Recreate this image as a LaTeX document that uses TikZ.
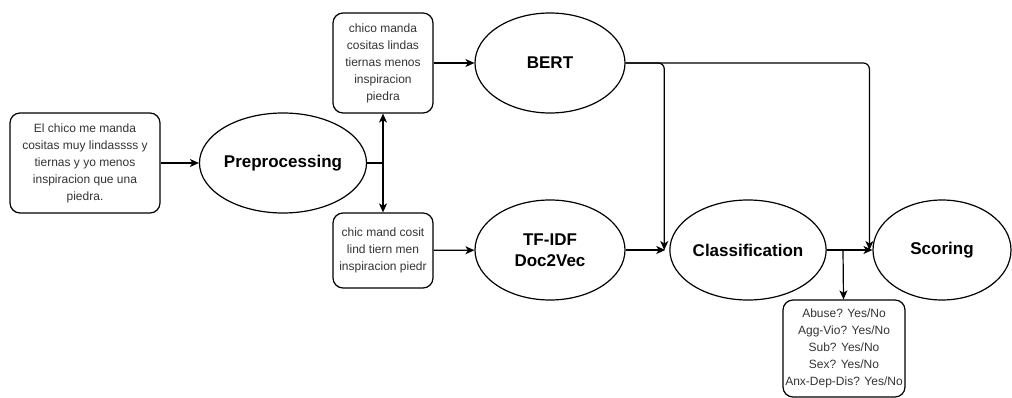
\documentclass[tikz,border=0pt]{standalone}
\usepackage{fontspec}
\setmainfont{Liberation Sans}
\usetikzlibrary{arrows.meta,shapes.geometric}
\begin{document}
\begin{tikzpicture}[x=1pt,y=-1pt,
        caja/.style={draw,rounded corners=10pt,line width=1.2pt,align=center,inner sep=0pt,
            text=texto,font=\fontsize{12}{17}\selectfont},
        elipse/.style={draw,ellipse,line width=1.2pt,align=center,inner sep=0pt,
            minimum width=150pt,minimum height=100pt,font=\bfseries\fontsize{17}{21}\selectfont},
        linea/.style={line width=1.2pt},
        flecha/.style={linea,-{Stealth[length=9pt,width=8pt,inset=2.5pt]}}]
        %colores
        \colorlet{texto}{black!80}

        % Marco
        \useasboundingbox (0,0) rectangle (1012,398);

        % Textos
        \node[caja,minimum width=150pt,minimum height=100pt] (input) at (85,163)
            {El chico me manda\\cositas muy lindassss y\\tiernas y yo menos\\inspiracion que una\\piedra.};
        \node[caja,minimum width=100pt,minimum height=100pt] (limpio) at (383,63)
            {chico manda\\cositas lindas\\tiernas menos\\inspiracion\\piedra};
        \node[caja,minimum width=100pt,minimum height=75pt] (stem) at (383,250.5)
            {chic mand cosit\\lind tiern men\\inspiracion piedr};
        \node[caja,minimum width=122pt,minimum height=97pt] (salida) at (844,348.5)
            {Abuse? Yes/No\\Agg-Vio? Yes/No\\Sub? Yes/No\\Sex? Yes/No\\Anx-Dep-Dis? Yes/No};

        % Etapas
        \node[elipse] (prep) at (283,163) {Preprocessing};
        \node[elipse] (bert) at (550,63) {BERT};
        \node[elipse] (tfidf) at (550,250) {TF-IDF\\Doc2Vec};
        \node[elipse] (clasif) at (748,250) {Classification};
        \node[elipse,minimum width=138pt] (score) at (942,250) {Scoring};

        % Conexiones
        \coordinate (bif) at (383,163);
        \coordinate (bif2) at (843,250);
        \draw[flecha] (input) -- (prep);
        \draw[linea] (prep) -- (bif);
        \draw[flecha] (bif) -- (limpio);
        \draw[flecha] (bif) -- (stem);
        \draw[flecha] (limpio) -- (bert);
        \draw[flecha] (stem) -- (tfidf);
        \draw[flecha] (tfidf) -- ([xshift=-4pt]clasif.west);
        \draw[flecha,rounded corners=6pt] (bert.east) -| ([xshift=-5pt]clasif.west);
        \draw[flecha,rounded corners=6pt] (bert.east) -| ([xshift=-3pt]score.west);
        \draw[flecha] (clasif) -- (score);
        \draw[flecha] (bif2) -- (salida);
    \end{tikzpicture}
\end{document}
